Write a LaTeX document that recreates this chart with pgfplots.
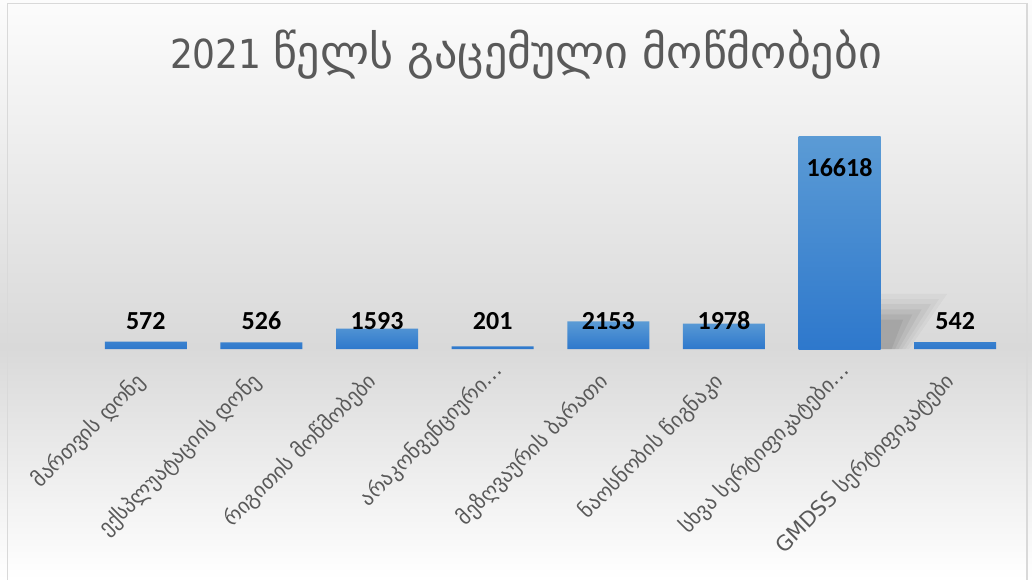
\documentclass[border=0pt]{standalone}
\usepackage{fontspec}
\setmainfont{Carlito}
\newfontfamily\geo{DejaVu Sans}
\newfontfamily\geotitle{DejaVu Sans Condensed}
\usepackage{pgfplots}
\pgfplotsset{compat=1.18}
\definecolor{txt}{HTML}{595959}
\definecolor{bartop}{HTML}{5B9BD5}
\definecolor{barbot}{HTML}{2E78CC}
\definecolor{bgmid}{HTML}{D9D9D9}
\definecolor{bgtop}{HTML}{FCFCFC}
\pgfdeclareverticalshading{bgshade}{100bp}{color(0bp)=(white); color(25bp)=(white); color(45bp)=(bgmid); color(75bp)=(bgtop); color(100bp)=(bgtop)}
\begin{document}
\begin{tikzpicture}[x=1pt,y=1pt]
\useasboundingbox (0,0) rectangle (1032,579);
\shade[shading=bgshade] (0,0) rectangle (1032,579);
\draw[black!15, line width=1.5pt] (7.5,-5) -- (7.5,575.5) -- (1027,575.5) -- (1027,-5);
\node[text=txt, anchor=base] at (526,510) {\geotitle\fontsize{40}{48}\selectfont 2021 \geo\fontsize{46}{52}\selectfont წელს გაცემული მოწმობები};
\begin{axis}[
  at={(88pt,230pt)}, anchor=south west,
  scale only axis, width=925pt, height=230.7pt,
  xmin=-0.5, xmax=7.5, ymin=0, ymax=18000,
  axis line style={draw=none},
  major tick length=0pt,
  ytick=\empty,
  xtick={0,...,7},
  xticklabels={მართვის დონე, ექსპლუატაციის დონე, რიგითის მოწმობები, არაკონვენციური…\kern-15pt, მეზღვაურის ბარათი, ნაოსნობის წიგნაკი, სხვა სერტიფიკატები…\kern-15pt, GMDSS სერტიფიკატები},
  xticklabel style={xshift=-12pt, yshift=-21pt, rotate=45, anchor=north east, font=\geo\fontsize{21}{23}\selectfont, text=txt, inner sep=0pt},
  /pgf/number format/.cd, 1000 sep={}, assume math mode=true,
  /pgfplots/.cd,
  clip=false,
]
\fill[black, opacity=0.03] (axis cs:6.358,0) -- (axis cs:6.358,4300) -- (axis cs:6.93,4300) -- (axis cs:6.60,0) -- cycle;
\fill[black, opacity=0.03] (axis cs:6.358,0) -- (axis cs:6.358,3900) -- (axis cs:6.86,3900) -- (axis cs:6.57,0) -- cycle;
\fill[black, opacity=0.04] (axis cs:6.358,0) -- (axis cs:6.358,3500) -- (axis cs:6.79,3500) -- (axis cs:6.54,0) -- cycle;
\fill[black, opacity=0.05] (axis cs:6.358,0) -- (axis cs:6.358,3100) -- (axis cs:6.71,3100) -- (axis cs:6.51,0) -- cycle;
\fill[black, opacity=0.05] (axis cs:6.358,0) -- (axis cs:6.358,2700) -- (axis cs:6.63,2700) -- (axis cs:6.48,0) -- cycle;
\fill[black, opacity=0.06] (axis cs:6.358,0) -- (axis cs:6.358,2300) -- (axis cs:6.55,2300) -- (axis cs:6.45,0) -- cycle;
\addplot[ybar, bar width=82pt, bar shift=0pt, draw=none, top color=bartop, bottom color=barbot,
  visualization depends on={y \as \rawy},
  nodes near coords, nodes near coords style={font=\bfseries\fontsize{26}{28}\selectfont, text=black, anchor=center, inner sep=0pt, yshift={(2184-\rawy)*0.012818pt}}]
  coordinates {(0,572) (1,526) (2,1593) (3,201) (4,2153) (5,1978) (7,542)};
\addplot[ybar, bar width=82pt, bar shift=0pt, draw=none, top color=bartop, bottom color=barbot,
  nodes near coords, nodes near coords style={font=\bfseries\fontsize{26}{28}\selectfont, text=black, anchor=north, inner sep=0pt, yshift=-22pt}]
  coordinates {(6,16618)};
\end{axis}
\end{tikzpicture}
\end{document}
